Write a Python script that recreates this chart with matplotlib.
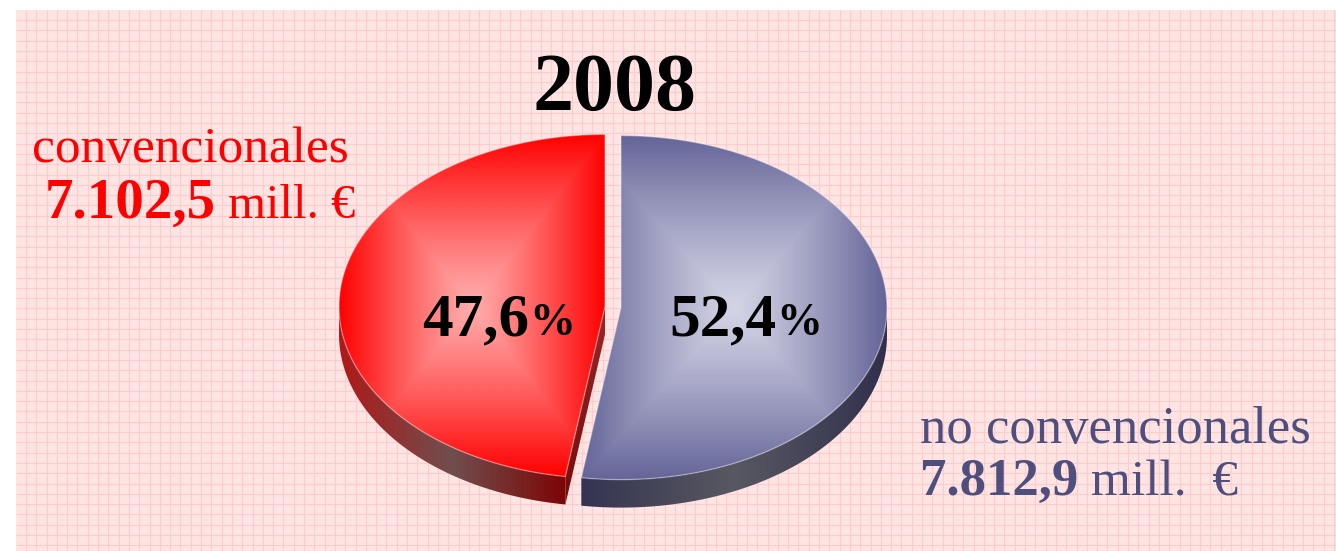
import numpy as np
import matplotlib.pyplot as plt
from matplotlib.patches import Polygon, Rectangle

# data
categories = ['convencionales', 'no convencionales']
amounts = [7102.5, 7812.9]
amount_labels = ['7.102,5', '7.812,9']
year = '2008'

W, H = 1336, 551
serif = ['Liberation Serif', 'DejaVu Serif']

fig = plt.figure(figsize=(W / 100, H / 100), dpi=100)
ax = fig.add_axes([0, 0, 1, 1])
ax.set_xlim(0, W)
ax.set_ylim(H, 0)
ax.axis('off')

# pink squared paper background
ax.add_patch(Rectangle((16, 10), W - 16, H - 10, facecolor='#ffe4e4', edgecolor='none', zorder=0))
ax.vlines(np.arange(26, W, 10.3), 10, H, color='#ffcccc', lw=0.8, zorder=0.5)
ax.hlines(np.arange(20, H, 10.3), 16, W, color='#ffcccc', lw=0.8, zorder=0.5)

# pie layout (pixels)
cx, cy = 613, 307
a, b = 266, 172
depth = 28
explode = 8

yy, xx = np.mgrid[0:H, 0:W] + 0.5

def blend(c0, c1, t):
    c0 = np.array(c0) / 255.0
    c1 = np.array(c1) / 255.0
    return c0 + (c1 - c0) * t[..., None]

def shaded(poly, img):
    patch = Polygon(poly, closed=True, facecolor='none', edgecolor='none', transform=ax.transData)
    ax.add_patch(patch)
    im = ax.imshow(img, extent=(0, W, H, 0), origin='upper', interpolation='bilinear', zorder=2)
    im.set_clip_path(patch)
    return patch

def side_color(x0, x1, left, mid, right):
    t = np.clip((xx - x0) / (x1 - x0), 0, 1)
    c = np.where(t[..., None] < 0.5, blend(left, mid, t * 2), blend(mid, right, (t - 0.5) * 2))
    return c

styles = {
    0: dict(edge=(255, 0, 0), light=(255, 172, 172), side=((175, 25, 25), (112, 78, 78), (125, 5, 5)),
            cut=(120, 10, 10), text='#ff0000'),
    1: dict(edge=(100, 100, 152), light=(212, 212, 230), side=((52, 52, 82), (88, 88, 98), (48, 48, 78)),
            cut=(50, 50, 75), text='#4f4f7e'),
}

fracs = np.array(amounts) / sum(amounts)
start = 90.0
slices = {}
for i in [1, 0]:
    t1 = start - fracs[i] * 360
    slices[i] = (t1, start)
    start = t1

label_pos = {}
for i, (t1, t2) in slices.items():
    st = styles[i]
    mid = np.radians((t1 + t2) / 2)
    ox = cx + explode * np.cos(mid)
    oy = cy - explode * np.sin(mid)
    th = np.radians(np.linspace(t1, t2, 400))
    arc = np.column_stack([ox + a * np.cos(th), oy - b * np.sin(th)])

    # side wall
    front = np.sin(th) < 0
    if front.any():
        pts = arc[front]
        low = pts[::-1] + [0, depth]
        side = np.vstack([pts, low])
        img = side_color(pts[:, 0].min(), pts[:, 0].max(), *st['side'])
        shaded(side, img)

    # radial cut faces facing the viewer
    for ang, n in [(t1, t1 - 90), (t2, t2 + 90)]:
        if np.sin(np.radians(n)) < -1e-6:
            p = np.array([ox + a * np.cos(np.radians(ang)), oy - b * np.sin(np.radians(ang))])
            c = np.array([ox, oy])
            quad = np.array([c, p, p + [0, depth], c + [0, depth]])
            tv = np.clip((yy - oy) / (p[1] - oy + depth), 0, 1)
            img = blend(np.array(st['cut']) + 30, st['cut'], tv)
            shaded(quad, np.clip(img, 0, 1))

    # top face with rectangular path gradient
    top = np.vstack([[ox, oy], arc])
    bx0, bx1 = top[:, 0].min(), top[:, 0].max()
    by0, by1 = top[:, 1].min(), top[:, 1].max()
    bxc, byc = (bx0 + bx1) / 2, (by0 + by1) / 2
    t = np.maximum(np.abs(xx - bxc) / ((bx1 - bx0) / 2), np.abs(yy - byc) / ((by1 - by0) / 2))
    t = np.clip(t, 0, 1) ** 1.15
    img = blend(st['light'], st['edge'], t)
    shaded(top, img)
    ax.add_patch(Polygon(top, closed=True, facecolor='none', edgecolor='white', lw=1.0, alpha=0.35, zorder=3))
    label_pos[i] = (ox, oy, mid)

renderer = fig.canvas.get_renderer()

def to_data_x(px):
    return ax.transData.inverted().transform((px, 0))[0]

def pair(x, y, s1, s2, color, size1, size2, w1='bold', w2='normal', center=False):
    t1 = ax.text(x, y, s1, fontsize=size1, fontweight=w1, color=color, family=serif,
                 ha='left', va='baseline', zorder=5)
    bb = t1.get_window_extent(renderer)
    t2 = ax.text(to_data_x(bb.x1), y, s2, fontsize=size2, fontweight=w2, color=color, family=serif,
                 ha='left', va='baseline', zorder=5)
    if center:
        bb2 = t2.get_window_extent(renderer)
        shift = (to_data_x(bb2.x1) - x) / 2
        t1.set_x(x - shift)
        t2.set_x(to_data_x(bb.x1) - shift)
    return t1, t2

# title
ax.text(cx + 2, 110, year, fontsize=59, fontweight='bold', family=serif, ha='center', va='baseline', zorder=5)

# percentage labels inside slices
label_r = {0: 0.40, 1: 0.47}
for i in [0, 1]:
    ox, oy, mid = label_pos[i]
    pct = f'{fracs[i] * 100:.1f}'.replace('.', ',')
    lx = ox + label_r[i] * a * np.cos(mid)
    pair(lx, 335, pct, '%', 'black', 44, 33, 'bold', 'bold', center=True)

# category labels
ax.text(32, 162, categories[0], fontsize=37, color=styles[0]['text'], family=serif, va='baseline', zorder=5)
pair(45, 218, amount_labels[0], ' mill. €', styles[0]['text'], 41, 35)
ax.text(920, 443, categories[1], fontsize=38, color=styles[1]['text'], family=serif, va='baseline', zorder=5)
pair(920, 495, amount_labels[1], ' mill.  €', styles[1]['text'], 38, 37)

fig.savefig('out.png', dpi=100)
